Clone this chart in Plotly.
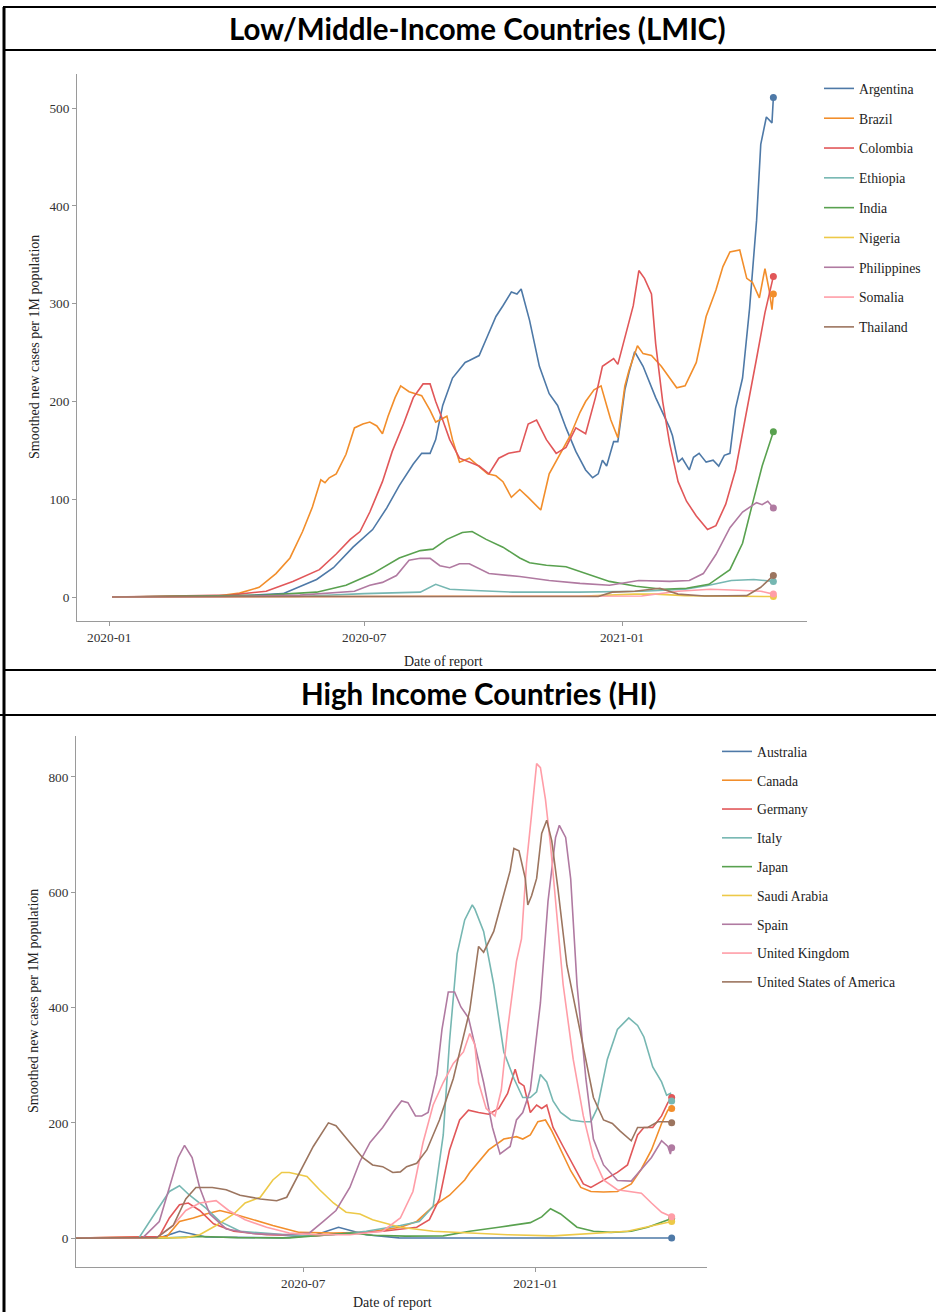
import plotly.graph_objects as go

# ---------------- Low/Middle-Income Countries ----------------
lmic_names = ["Argentina", "Brazil", "Colombia", "Ethiopia", "India", "Nigeria",
              "Philippines", "Somalia", "Thailand"]

arg_dates = ["2020-01-03", "2020-03-29", "2020-05-04", "2020-05-28", "2020-06-09", "2020-06-23",
             "2020-07-07", "2020-07-17", "2020-07-26", "2020-08-05", "2020-08-11", "2020-08-17",
             "2020-08-21", "2020-08-26", "2020-09-02", "2020-09-11", "2020-09-14", "2020-09-21",
             "2020-09-27", "2020-10-03", "2020-10-08", "2020-10-14", "2020-10-18", "2020-10-21",
             "2020-10-27", "2020-11-03", "2020-11-10", "2020-11-16", "2020-11-22", "2020-11-29",
             "2020-12-06", "2020-12-11", "2020-12-15", "2020-12-18", "2020-12-21", "2020-12-26",
             "2020-12-29", "2021-01-03", "2021-01-06", "2021-01-10", "2021-01-16", "2021-01-25",
             "2021-02-04", "2021-02-06", "2021-02-10", "2021-02-13", "2021-02-18", "2021-02-21",
             "2021-02-25", "2021-03-02", "2021-03-07", "2021-03-11", "2021-03-15", "2021-03-19",
             "2021-03-23", "2021-03-28", "2021-04-02", "2021-04-07", "2021-04-10", "2021-04-14",
             "2021-04-18", "2021-04-19"]
arg_vals = [0, 1, 3.5, 18, 30, 51, 69, 91, 114, 136, 147, 147, 161, 196, 224, 240, 242, 247,
            267, 287, 298, 312, 310, 315, 283, 236, 208, 196, 173, 149, 130, 122, 126, 140, 134,
            159, 159, 212, 230, 251, 236, 204, 173, 165, 138, 142, 130, 143, 147, 138, 140, 134,
            145, 147, 193, 224, 295, 385, 463, 491, 485, 511]

bra_dates = ["2020-01-03", "2020-03-18", "2020-04-03", "2020-04-17", "2020-04-29", "2020-05-09",
             "2020-05-18", "2020-05-25", "2020-05-31", "2020-06-03", "2020-06-06", "2020-06-11",
             "2020-06-18", "2020-06-24", "2020-06-30", "2020-07-05", "2020-07-10", "2020-07-14",
             "2020-07-18", "2020-07-23", "2020-07-27", "2020-08-02", "2020-08-11", "2020-08-17",
             "2020-08-21", "2020-08-29", "2020-09-02", "2020-09-07", "2020-09-14", "2020-09-19",
             "2020-09-27", "2020-10-03", "2020-10-08", "2020-10-14", "2020-10-20", "2020-10-26",
             "2020-10-31", "2020-11-04", "2020-11-10", "2020-11-16", "2020-11-25", "2020-12-02",
             "2020-12-06", "2020-12-12", "2020-12-17", "2020-12-21", "2020-12-24", "2020-12-29",
             "2021-01-03", "2021-01-06", "2021-01-12", "2021-01-16", "2021-01-22", "2021-01-29",
             "2021-02-04", "2021-02-09", "2021-02-15", "2021-02-23", "2021-03-02", "2021-03-09",
             "2021-03-14", "2021-03-19", "2021-03-26", "2021-03-31", "2021-04-04", "2021-04-09",
             "2021-04-13", "2021-04-16", "2021-04-18", "2021-04-19"]
bra_vals = [0, 1, 4, 10, 24, 40, 67, 92, 120, 117, 122, 126, 146, 173, 177, 179, 175, 167, 185,
            204, 216, 210, 206, 191, 179, 185, 161, 138, 142, 136, 126, 124, 118, 102, 110, 102,
            95, 89, 126, 142, 165, 189, 200, 212, 216, 196, 181, 163, 216, 232, 257, 249, 247,
            236, 224, 214, 216, 240, 287, 314, 338, 353, 355, 326, 322, 306, 336, 314, 294, 310]

col_dates = ["2020-01-03", "2020-03-27", "2020-04-22", "2020-05-11", "2020-05-30", "2020-06-11",
             "2020-06-21", "2020-06-28", "2020-07-05", "2020-07-14", "2020-07-21", "2020-07-29",
             "2020-08-05", "2020-08-12", "2020-08-17", "2020-08-21", "2020-08-26", "2020-08-31",
             "2020-09-07", "2020-09-14", "2020-09-21", "2020-09-28", "2020-10-05", "2020-10-12",
             "2020-10-20", "2020-10-26", "2020-11-01", "2020-11-08", "2020-11-15", "2020-11-22",
             "2020-11-29", "2020-12-06", "2020-12-13", "2020-12-18", "2020-12-26", "2020-12-29",
             "2021-01-04", "2021-01-09", "2021-01-13", "2021-01-17", "2021-01-22", "2021-01-25",
             "2021-01-30", "2021-02-04", "2021-02-10", "2021-02-16", "2021-02-23", "2021-03-03",
             "2021-03-09", "2021-03-16", "2021-03-23", "2021-03-31", "2021-04-07", "2021-04-13",
             "2021-04-19"]
col_vals = [0, 2, 6, 16, 28, 44, 59, 67, 87, 118, 149, 177, 204, 218, 218, 200, 181, 161, 142,
            138, 134, 126, 142, 147, 149, 177, 181, 161, 147, 153, 173, 167, 204, 236, 244, 238,
            271, 298, 334, 326, 310, 259, 200, 157, 118, 98, 83, 69, 73, 95, 130, 189, 244, 291, 328]

eth_dates = ["2020-01-03", "2020-05-15", "2020-07-01", "2020-08-10", "2020-08-21", "2020-08-31",
             "2020-09-14", "2020-10-15", "2020-12-01", "2021-01-15", "2021-02-15", "2021-03-04",
             "2021-03-20", "2021-04-05", "2021-04-19"]
eth_vals = [0, 0.5, 3.5, 5, 13, 8, 7, 5, 5, 6, 8, 12, 17, 18, 16]

ind_dates = ["2020-01-03", "2020-04-22", "2020-05-28", "2020-06-18", "2020-07-07", "2020-07-26",
             "2020-08-10", "2020-08-19", "2020-08-29", "2020-09-09", "2020-09-16", "2020-09-26",
             "2020-10-08", "2020-10-20", "2020-10-27", "2020-11-08", "2020-11-22", "2020-12-06",
             "2020-12-23", "2021-01-11", "2021-01-30", "2021-02-16", "2021-03-04", "2021-03-19",
             "2021-03-28", "2021-04-04", "2021-04-11", "2021-04-19"]
ind_vals = [0, 2, 5, 12, 24, 40, 47.5, 49, 59, 66, 67, 59, 51, 40, 35, 32.5, 31, 24, 16, 11, 8,
            9, 13, 28, 55, 95, 134, 169]

nga_dates = ["2020-01-03", "2020-05-01", "2020-07-01", "2020-09-01", "2020-12-01", "2021-01-10",
             "2021-01-25", "2021-02-15", "2021-04-19"]
nga_vals = [0, 0.5, 1, 0.8, 0.8, 3, 3, 1.5, 0.5]

phl_dates = ["2020-01-03", "2020-03-25", "2020-05-16", "2020-06-24", "2020-07-05", "2020-07-14",
             "2020-07-24", "2020-08-02", "2020-08-10", "2020-08-17", "2020-08-24", "2020-08-31",
             "2020-09-07", "2020-09-14", "2020-09-28", "2020-10-20", "2020-11-10", "2020-12-02",
             "2020-12-23", "2021-01-13", "2021-02-04", "2021-02-18", "2021-02-28", "2021-03-09",
             "2021-03-19", "2021-03-28", "2021-04-07", "2021-04-11", "2021-04-15", "2021-04-19"]
phl_vals = [0, 0.5, 2, 6, 12, 15, 22, 37.6, 39.6, 39.6, 32, 30, 34, 34, 24, 21, 17, 14, 12, 17,
            16, 17, 24, 43.5, 71, 87, 96.5, 94.5, 98, 91]

som_dates = ["2020-01-03", "2020-05-01", "2020-09-01", "2021-01-15", "2021-02-10", "2021-03-05",
             "2021-03-25", "2021-04-10", "2021-04-19"]
som_vals = [0, 0.5, 0.5, 1, 6, 8, 7, 6, 3]

tha_dates = ["2020-01-03", "2020-04-01", "2020-12-15", "2020-12-25", "2021-01-10", "2021-01-28",
             "2021-02-10", "2021-03-01", "2021-03-31", "2021-04-10", "2021-04-19"]
tha_vals = [0, 0.5, 0.5, 5, 6, 9, 3, 1, 1.5, 10, 22]

# ---------------- High Income Countries ----------------
hi_names = ["Australia", "Canada", "Germany", "Italy", "Japan", "Saudi Arabia", "Spain",
            "United Kingdom", "United States of America"]

aus_dates = ["2020-01-03", "2020-03-10", "2020-03-25", "2020-04-15", "2020-06-15", "2020-07-10",
             "2020-07-29", "2020-08-20", "2020-09-15", "2021-04-19"]
aus_vals = [0, 1, 12, 2, 0.5, 5, 19, 6, 0.5, 0.3]

can_dates = ["2020-01-03", "2020-03-15", "2020-03-25", "2020-04-05", "2020-04-15", "2020-04-26",
             "2020-05-07", "2020-05-22", "2020-06-07", "2020-06-28", "2020-07-25", "2020-08-20",
             "2020-09-16", "2020-09-29", "2020-10-12", "2020-10-25", "2020-11-06", "2020-11-10",
             "2020-11-17", "2020-11-25", "2020-12-07", "2020-12-17", "2020-12-22", "2020-12-28",
             "2021-01-03", "2021-01-09", "2021-01-14", "2021-01-21", "2021-01-29", "2021-02-06",
             "2021-02-14", "2021-02-24", "2021-03-07", "2021-03-18", "2021-03-26", "2021-04-03",
             "2021-04-11", "2021-04-16", "2021-04-19"]
can_vals = [0, 3, 29, 35, 42, 48, 42, 32, 22, 10, 9, 10, 19, 29, 55, 74.5, 101, 114, 133, 153,
            172, 176, 172, 179, 202, 205, 186, 153, 117, 88, 81, 80, 81, 94, 120, 153, 199, 222, 225]

deu_dates = ["2020-01-03", "2020-03-09", "2020-03-17", "2020-03-25", "2020-04-01", "2020-04-10",
             "2020-04-21", "2020-05-07", "2020-06-02", "2020-07-11", "2020-08-07", "2020-09-02",
             "2020-09-29", "2020-10-09", "2020-10-17", "2020-10-25", "2020-11-02", "2020-11-09",
             "2020-11-17", "2020-11-25", "2020-12-03", "2020-12-10", "2020-12-16", "2020-12-19",
             "2020-12-23", "2020-12-28", "2021-01-02", "2021-01-06", "2021-01-10", "2021-01-15",
             "2021-01-23", "2021-01-31", "2021-02-08", "2021-02-14", "2021-02-24", "2021-03-07",
             "2021-03-15", "2021-03-23", "2021-03-28", "2021-04-04", "2021-04-11", "2021-04-16",
             "2021-04-19"]
deu_vals = [0, 3, 35, 58, 61, 48, 25, 12, 6, 4, 9, 12, 19, 32, 68, 153, 205, 222, 218, 215, 225,
            251, 293, 270, 264, 218, 231, 225, 231, 192, 159, 127, 94, 88, 101, 114, 127, 179,
            192, 192, 212, 235, 244]

ita_dates = ["2020-01-03", "2020-02-22", "2020-03-07", "2020-03-17", "2020-03-25", "2020-04-02",
             "2020-04-15", "2020-04-26", "2020-05-12", "2020-06-02", "2020-06-29", "2020-07-25",
             "2020-08-20", "2020-09-16", "2020-10-01", "2020-10-12", "2020-10-20", "2020-10-25",
             "2020-10-31", "2020-11-06", "2020-11-12", "2020-11-14", "2020-11-21", "2020-11-29",
             "2020-12-07", "2020-12-15", "2020-12-22", "2020-12-28", "2021-01-02", "2021-01-05",
             "2021-01-10", "2021-01-15", "2021-01-21", "2021-01-29", "2021-02-08", "2021-02-14",
             "2021-02-19", "2021-02-27", "2021-03-07", "2021-03-16", "2021-03-23", "2021-03-28",
             "2021-04-04", "2021-04-11", "2021-04-15", "2021-04-18", "2021-04-19"]
ita_vals = [0, 1, 48, 81, 91, 74.5, 52, 29, 12, 8, 4, 6, 12, 22, 29, 55, 179, 342, 493, 552, 578,
            571, 532, 440, 323, 277, 244, 244, 254, 284, 271, 238, 218, 205, 202, 202, 225, 310,
            362, 382, 369, 349, 297, 271, 248, 251, 238]

jpn_dates = ["2020-01-03", "2020-03-15", "2020-04-12", "2020-05-10", "2020-06-20", "2020-07-20",
             "2020-08-08", "2020-08-25", "2020-09-20", "2020-10-20", "2020-11-10", "2020-12-03",
             "2020-12-28", "2021-01-06", "2021-01-13", "2021-01-21", "2021-02-03", "2021-02-16",
             "2021-03-02", "2021-03-18", "2021-03-31", "2021-04-19"]
jpn_vals = [0, 0.5, 3, 1, 0.5, 5, 9, 5, 3.5, 4, 12, 19, 27, 37, 51, 42, 19, 12, 10, 12, 19, 34]

sau_dates = ["2020-01-03", "2020-03-30", "2020-04-10", "2020-04-23", "2020-05-07", "2020-05-16",
             "2020-05-28", "2020-06-07", "2020-06-14", "2020-06-20", "2020-06-28", "2020-07-04",
             "2020-07-14", "2020-07-25", "2020-08-04", "2020-08-15", "2020-08-25", "2020-09-16",
             "2020-10-12", "2020-11-07", "2020-12-10", "2021-01-15", "2021-02-15", "2021-03-15",
             "2021-04-19"]
sau_vals = [0, 1, 6, 22, 42, 61, 71, 101, 114, 114, 110, 107, 84, 61, 45, 42, 32, 19, 12, 9, 6,
            4, 8, 12, 29]

esp_dates = ["2020-01-03", "2020-02-25", "2020-03-09", "2020-03-17", "2020-03-24", "2020-03-29",
             "2020-04-04", "2020-04-10", "2020-04-18", "2020-05-01", "2020-05-22", "2020-06-15",
             "2020-07-06", "2020-07-17", "2020-07-27", "2020-08-07", "2020-08-15", "2020-08-23",
             "2020-09-02", "2020-09-10", "2020-09-17", "2020-09-22", "2020-09-28", "2020-10-03",
             "2020-10-08", "2020-10-15", "2020-10-19", "2020-10-24", "2020-10-29", "2020-11-03",
             "2020-11-09", "2020-11-21", "2020-11-28", "2020-12-04", "2020-12-12", "2020-12-17",
             "2020-12-22", "2020-12-28", "2021-01-05", "2021-01-11", "2021-01-17", "2021-01-20",
             "2021-01-25", "2021-01-29", "2021-02-03", "2021-02-10", "2021-02-16", "2021-02-24",
             "2021-03-07", "2021-03-18", "2021-03-26", "2021-04-03", "2021-04-11", "2021-04-16",
             "2021-04-18", "2021-04-19"]
esp_vals = [0, 1, 29, 88, 140, 161, 140, 88, 42, 16, 8, 6, 9, 29, 48, 88, 133, 166, 192, 218,
            238, 235, 212, 212, 218, 284, 362, 427, 427, 401, 382, 270, 192, 146, 159, 205, 218,
            257, 408, 584, 695, 716, 695, 623, 440, 277, 172, 127, 100, 99, 120, 140, 169, 159,
            146, 157]

gbr_dates = ["2020-01-03", "2020-03-07", "2020-03-20", "2020-03-30", "2020-04-10", "2020-04-23",
             "2020-05-03", "2020-05-16", "2020-06-02", "2020-06-20", "2020-07-11", "2020-08-07",
             "2020-09-02", "2020-09-16", "2020-09-26", "2020-10-04", "2020-10-12", "2020-10-20",
             "2020-10-28", "2020-11-05", "2020-11-10", "2020-11-14", "2020-11-17", "2020-11-23",
             "2020-11-30", "2020-12-05", "2020-12-10", "2020-12-17", "2020-12-21", "2020-12-25",
             "2020-12-29", "2021-01-02", "2021-01-05", "2021-01-09", "2021-01-13", "2021-01-18",
             "2021-01-23", "2021-01-31", "2021-02-08", "2021-02-16", "2021-02-24", "2021-03-07",
             "2021-03-18", "2021-03-26", "2021-04-03", "2021-04-11", "2021-04-19"]
gbr_vals = [0, 1, 22, 48, 61, 65, 48, 32, 19, 9, 6, 6, 12, 35, 81, 166, 231, 270, 303, 323, 355,
            336, 270, 225, 212, 257, 362, 480, 519, 650, 735, 823, 816, 761, 682, 558, 440, 310,
            212, 140, 101, 84, 81, 78, 61, 45, 37]

usa_dates = ["2020-01-03", "2020-03-07", "2020-03-20", "2020-03-30", "2020-04-07", "2020-04-20",
             "2020-05-01", "2020-05-12", "2020-05-28", "2020-06-10", "2020-06-18", "2020-06-28",
             "2020-07-09", "2020-07-21", "2020-07-27", "2020-08-07", "2020-08-17", "2020-08-25",
             "2020-09-02", "2020-09-10", "2020-09-16", "2020-09-21", "2020-09-29", "2020-10-07",
             "2020-10-17", "2020-10-28", "2020-11-06", "2020-11-10", "2020-11-17", "2020-11-21",
             "2020-11-29", "2020-12-07", "2020-12-12", "2020-12-15", "2020-12-19", "2020-12-24",
             "2020-12-26", "2020-12-29", "2021-01-02", "2021-01-06", "2021-01-10", "2021-01-14",
             "2021-01-19", "2021-01-26", "2021-02-03", "2021-02-10", "2021-02-16", "2021-02-24",
             "2021-03-03", "2021-03-09", "2021-03-18", "2021-03-23", "2021-03-31", "2021-04-08",
             "2021-04-16", "2021-04-19"]
usa_vals = [0, 1, 22, 68, 88, 88, 84, 74.5, 68, 65, 71, 114, 159, 200, 195, 166, 140, 127, 124,
            114, 115, 124, 130, 153, 205, 277, 356, 395, 506, 496, 532, 597, 637, 676, 672, 624,
            578, 594, 624, 702, 725, 689, 604, 473, 388, 310, 244, 205, 199, 186, 169, 192, 192,
            202, 202, 200]

colors = ["#4e79a7", "#f28e2b", "#e15759", "#76b7b2", "#59a14f", "#edc948", "#b07aa1",
          "#ff9da7", "#9c755f"]

lmic_series = [(arg_dates, arg_vals), (bra_dates, bra_vals), (col_dates, col_vals),
               (eth_dates, eth_vals), (ind_dates, ind_vals), (nga_dates, nga_vals),
               (phl_dates, phl_vals), (som_dates, som_vals), (tha_dates, tha_vals)]
hi_series = [(aus_dates, aus_vals), (can_dates, can_vals), (deu_dates, deu_vals),
             (ita_dates, ita_vals), (jpn_dates, jpn_vals), (sau_dates, sau_vals),
             (esp_dates, esp_vals), (gbr_dates, gbr_vals), (usa_dates, usa_vals)]

W, H = 936, 1312
SERIF = "Liberation Serif, Times New Roman, serif"

def px(x):
    return x / W

def py(y):
    return 1 - y / H

fig = go.Figure()

def add_group(names, series, xa, ya, leg):
    for i, (name, (d, v)) in enumerate(zip(names, series)):
        fig.add_trace(go.Scatter(
            x=d, y=v, mode="lines", name=name, legend=leg, legendgroup=leg + name,
            line=dict(color=colors[i], width=1.6), xaxis=xa, yaxis=ya, hoverinfo="skip"))
    for i, (name, (d, v)) in enumerate(zip(names, series)):
        fig.add_trace(go.Scatter(
            x=[d[-1]], y=[v[-1]], mode="markers", showlegend=False, legendgroup=leg + name,
            marker=dict(color=colors[i], size=7), xaxis=xa, yaxis=ya, hoverinfo="skip"))

add_group(lmic_names, lmic_series, "x", "y", "legend")
add_group(hi_names, hi_series, "x2", "y2", "legend2")

axis_common = dict(showline=True, linecolor="#9a9a9a", linewidth=1, ticks="outside",
                   ticklen=4, tickcolor="#9a9a9a", showgrid=False, zeroline=False,
                   tickfont=dict(family=SERIF, size=13.3, color="#333333"), automargin=False)

LEG_FONT = dict(family=SERIF, size=13.7, color="#222222")

fig.update_layout(
    width=W, height=H, margin=dict(l=0, r=0, t=0, b=0),
    paper_bgcolor="white", plot_bgcolor="white", showlegend=True,
    xaxis=dict(domain=[px(77), px(807)], anchor="y", type="date",
               range=["2019-12-09", "2021-05-13"],
               tickvals=["2020-01-01", "2020-07-01", "2021-01-01"],
               ticktext=["2020-01", "2020-07", "2021-01"], **axis_common),
    yaxis=dict(domain=[py(621), py(74)], anchor="x", range=[-24.5, 535],
               tickvals=[0, 100, 200, 300, 400, 500], **axis_common),
    xaxis2=dict(domain=[px(76), px(707)], anchor="y2", type="date",
                range=["2020-01-03", "2021-05-17"],
                tickvals=["2020-07-01", "2021-01-01"],
                ticktext=["2020-07", "2021-01"], **axis_common),
    yaxis2=dict(domain=[py(1267), py(736)], anchor="x2", range=[-50, 871],
                tickvals=[0, 200, 400, 600, 800], **axis_common),
    legend=dict(x=px(819), y=py(73), xanchor="left", yanchor="top", font=LEG_FONT,
                tracegroupgap=9, itemwidth=30, bgcolor="rgba(0,0,0,0)"),
    legend2=dict(x=px(717), y=py(736), xanchor="left", yanchor="top", font=LEG_FONT,
                 tracegroupgap=8, itemwidth=30, bgcolor="rgba(0,0,0,0)"),
)

# table borders
lines = [
    dict(x0=px(3), x1=1, y0=py(7), y1=py(7), w=2),
    dict(x0=px(4), x1=px(4), y0=0, y1=py(7), w=3),
    dict(x0=px(4), x1=1, y0=py(50), y1=py(50), w=2),
    dict(x0=px(4), x1=1, y0=py(670), y1=py(670), w=2),
    dict(x0=0, x1=1, y0=py(715), y1=py(715), w=2),
]
for l in lines:
    fig.add_shape(type="line", xref="paper", yref="paper", x0=l["x0"], x1=l["x1"],
                  y0=l["y0"], y1=l["y1"], line=dict(color="black", width=l["w"]))

TITLE_FONT = dict(family="Lato, Open Sans, sans-serif", size=29.5, color="black")
ann = [
    dict(text="<b>Low/Middle-Income Countries (LMIC)</b>", x=px(478), y=py(29), font=TITLE_FONT),
    dict(text="<b>High Income Countries (HI)</b>", x=px(479), y=py(693), font=TITLE_FONT),
    dict(text="Smoothed new cases per 1M population", x=px(35), y=py(347), textangle=-90,
         font=dict(family=SERIF, size=14, color="#222222")),
    dict(text="Date of report", x=px(443), y=py(661), font=dict(family=SERIF, size=14, color="#222222")),
    dict(text="Smoothed new cases per 1M population", x=px(33), y=py(1001), textangle=-90,
         font=dict(family=SERIF, size=14, color="#222222")),
    dict(text="Date of report", x=px(392), y=py(1302), font=dict(family=SERIF, size=14, color="#222222")),
]
for a in ann:
    fig.add_annotation(xref="paper", yref="paper", showarrow=False, xanchor="center",
                       yanchor="middle", **a)

fig.write_html("out.html", config={"displayModeBar": False},
               post_script="document.body.style.margin='0';document.body.style.overflow='hidden';")
